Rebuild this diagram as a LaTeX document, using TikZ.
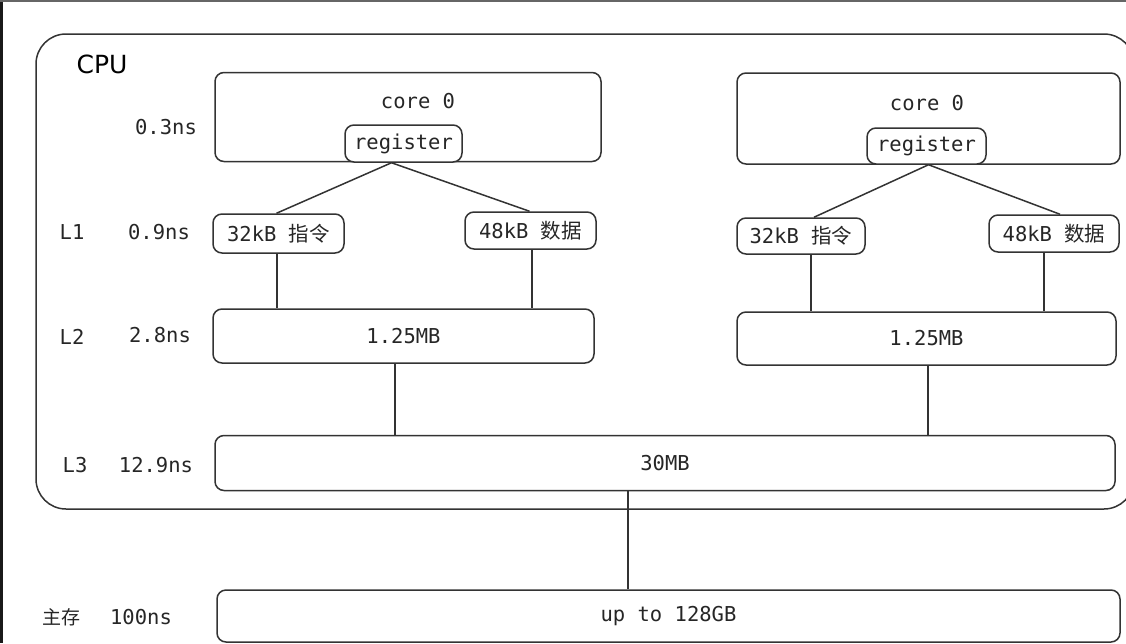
\documentclass[tikz,border=0pt]{standalone}
\usepackage{fontspec}
\setmainfont{DejaVu Sans}
\setmonofont{DejaVu Sans Mono}
\newfontfamily\cjk{Noto Sans CJK SC}
\begin{document}
\begin{tikzpicture}[x=1pt,y=-1pt,
  line/.style={draw=black!80,line width=1.5pt},
  box/.style={line,rounded corners=9pt,inner sep=0pt,text=black!85,font=\ttfamily\fontsize{20.5}{23}\selectfont},
  lbl/.style={inner sep=0pt,text=black!85,font=\ttfamily\fontsize{20.5}{23}\selectfont}]
\useasboundingbox (0,0) rectangle (1126,643);
\fill[black!90] (0,0) rectangle (3,643);
\fill[black!60] (0,0) rectangle (1126,1.5);
% CPU outline
\draw[line,rounded corners=30pt] (36,34) rectangle (1134,509);
\node[inner sep=0pt,font=\fontsize{25}{28}\selectfont] (cpu) at (102,64) {CPU};
% left core
\node[box,minimum width=386pt,minimum height=89pt] (coreL) at (408,117) {};
\node[lbl] (coreLt) at (418,101) {core 0};
\node[box,fill=white,minimum width=117pt,minimum height=37pt] (regL) at (403.5,143.5) {register};
\node[box,minimum width=131pt,minimum height=39pt] (l1aL) at (278.5,233.5) {32kB \cjk 指令};
\node[box,minimum width=131pt,minimum height=37pt] (l1bL) at (530.5,230.5) {48kB \cjk 数据};
\node[box,minimum width=381pt,minimum height=54pt] (l2L) at (403.5,336) {1.25MB};
% right core
\node[box,minimum width=383pt,minimum height=91pt] (coreR) at (928.5,118.5) {};
\node[lbl] (coreRt) at (927,103) {core 0};
\node[box,fill=white,minimum width=119pt,minimum height=36pt] (regR) at (926.5,146) {register};
\node[box,minimum width=128pt,minimum height=36pt] (l1aR) at (801,236) {32kB \cjk 指令};
\node[box,minimum width=130pt,minimum height=37pt] (l1bR) at (1054,233.5) {48kB \cjk 数据};
\node[box,minimum width=379pt,minimum height=53pt] (l2R) at (926.5,338.5) {1.25MB};
% shared
\node[box,minimum width=900pt,minimum height=55pt] (l3) at (665,463) {30MB};
\node[box,minimum width=903pt,minimum height=52pt] (mem) at (668.5,616) {up to 128GB};
% side labels
\node[lbl] (t03) at (166,127) {0.3ns};
\node[lbl] (tL1) at (72,232) {L1};
\node[lbl] (t09) at (159,232) {0.9ns};
\node[lbl] (tL2) at (72,337) {L2};
\node[lbl] (t28) at (160,335) {2.8ns};
\node[lbl] (tL3) at (75,465) {L3};
\node[lbl] (t129) at (156,465) {12.9ns};
\node[inner sep=0pt,text=black!85,font=\cjk\fontsize{19}{21}\selectfont] (tmem) at (61,617) {主存};
\node[lbl] (t100) at (141,617) {100ns};
% connectors
\draw[line] ([xshift=-12pt]regL.south) -- ([xshift=-2pt]l1aL.north);
\draw[line] ([xshift=-12pt]regL.south) -- ([xshift=-1pt]l1bL.north);
\draw[line] ([xshift=2pt]regR.south) -- ([xshift=13pt]l1aR.north);
\draw[line] ([xshift=2pt]regR.south) -- ([xshift=6pt]l1bR.north);
\draw[line] ([xshift=-1.5pt]l1aL.south) -- ([xshift=-1.5pt]l1aL.south |- l2L.north);
\draw[line] ([xshift=1.5pt]l1bL.south) -- ([xshift=1.5pt]l1bL.south |- l2L.north);
\draw[line] ([xshift=10pt]l1aR.south) -- ([xshift=10pt]l1aR.south |- l2R.north);
\draw[line] ([xshift=-10pt]l1bR.south) -- ([xshift=-10pt]l1bR.south |- l2R.north);
\draw[line] ([xshift=-8.5pt]l2L.south) -- ([xshift=-8.5pt]l2L.south |- l3.north);
\draw[line] ([xshift=1.5pt]l2R.south) -- ([xshift=1.5pt]l2R.south |- l3.north);
\draw[line] ([xshift=-37pt]l3.south) -- ([xshift=-37pt]l3.south |- mem.north);
\end{tikzpicture}
\end{document}
